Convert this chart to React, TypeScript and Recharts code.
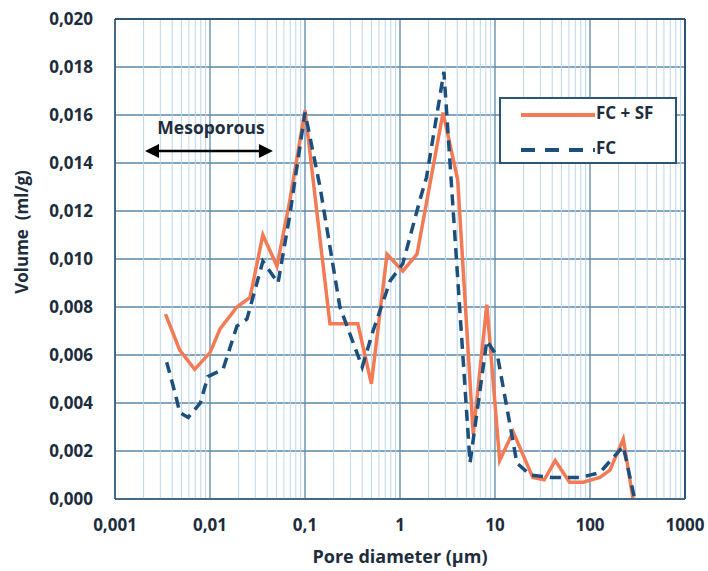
import React from 'react';
import { LineChart, Line, XAxis, YAxis, CartesianGrid, ReferenceLine } from 'recharts';

// FC + SF series (pore diameter µm, volume ml/g)
const fcSfX = [0.0034, 0.0048, 0.0069, 0.01, 0.0128, 0.0192, 0.0264, 0.036, 0.0507, 0.069, 0.1, 0.183, 0.36, 0.5, 0.73, 1.07, 1.51, 2.84, 4.05, 5.9, 8.2, 11.2, 15.5, 25, 33, 43, 61, 85, 127, 162, 224, 284];
const fcSfY = [0.0077, 0.0062, 0.0054, 0.0061, 0.0071, 0.008, 0.0084, 0.011, 0.0097, 0.0124, 0.0162, 0.0073, 0.0073, 0.0048, 0.0102, 0.0095, 0.0102, 0.0161, 0.0133, 0.0027, 0.0081, 0.0016, 0.0028, 0.0009, 0.0008, 0.0016, 0.0007, 0.0007, 0.0009, 0.0012, 0.0025, 0.0];

// FC series
const fcX = [0.0035, 0.0043, 0.0048, 0.0059, 0.0079, 0.0095, 0.0137, 0.0192, 0.0245, 0.036, 0.052, 0.069, 0.1, 0.144, 0.233, 0.4, 0.52, 0.79, 1.07, 1.63, 1.9, 2.9, 5.46, 8.2, 10.7, 17, 23.5, 40, 80, 127, 224, 295];
const fcY = [0.0057, 0.0044, 0.0036, 0.0034, 0.004, 0.0051, 0.0054, 0.0072, 0.0075, 0.0099, 0.009, 0.0118, 0.0161, 0.013, 0.008, 0.0055, 0.007, 0.0091, 0.0098, 0.0125, 0.0134, 0.0178, 0.0015, 0.0066, 0.0059, 0.0015, 0.001, 0.0009, 0.0009, 0.0011, 0.0022, 0.0];

const xTicks = [0.001, 0.01, 0.1, 1, 10, 100, 1000];
const xTickLabels = ['0,001', '0,01', '0,1', '1', '10', '100', '1000'];
const yTicks = [0, 0.002, 0.004, 0.006, 0.008, 0.01, 0.012, 0.014, 0.016, 0.018, 0.02];
const yTickLabels = ['0,000', '0,002', '0,004', '0,006', '0,008', '0,010', '0,012', '0,014', '0,016', '0,018', '0,020'];
const decades = [0.001, 0.01, 0.1, 1, 10, 100];
const multipliers = [2, 3, 4, 5, 6, 7, 8, 9];
const minorX = decades.flatMap((d) => multipliers.map((m) => +(d * m).toPrecision(3)));

const seriesNames = ['FC + SF', 'FC'];
const xTitle = 'Pore diameter (µm)';
const yTitle = 'Volume  (ml/g)';
const mesoLabel = 'Mesoporous';
const mesoRange = [0.00207, 0.046];
const mesoY = 0.0145;

const fcSfData = fcSfX.map((x, i) => ({ x, v: fcSfY[i] }));
const fcData = fcX.map((x, i) => ({ x, v: fcY[i] }));

const ORANGE = '#f27b56';
const BLUE = '#1c4f7c';
const MAJOR = '#5a88a8';
const MINOR = '#bcd6ea';
const BORDER = '#2c5474';
const TEXT = '#1d2d3d';
const FONT = '"Open Sans", sans-serif';

const ArrowShape = (props: any) => {
  const { x1, y1, x2, y2 } = props;
  if (x1 == null) return null;
  const h = 7;
  const w = 14;
  return (
    <g>
      <line x1={x1 + w - 2} y1={y1} x2={x2 - w + 2} y2={y2} stroke="#000" strokeWidth={2.5} />
      <polygon points={`${x1},${y1} ${x1 + w},${y1 - h} ${x1 + w},${y1 + h}`} fill="#000" />
      <polygon points={`${x2},${y2} ${x2 - w},${y2 - h} ${x2 - w},${y2 + h}`} fill="#000" />
      <text x={(x1 + x2) / 2 + 2} y={y1 - 17} textAnchor="middle" fontFamily={FONT} fontWeight={700} fontSize={17.5} fill={TEXT}>
        {mesoLabel}
      </text>
    </g>
  );
};

const YTitle = () => (
  <text
    x={21}
    y={232}
    transform="rotate(-90, 21, 232)"
    textAnchor="middle"
    dominantBaseline="central"
    fontFamily={FONT}
    fontWeight={700}
    fontSize={17}
    fill={TEXT}
    style={{ whiteSpace: 'pre' }}
  >
    {yTitle}
  </text>
);

const LegendBox = () => (
  <div
    style={{
      position: 'absolute',
      left: 499,
      top: 97,
      boxSizing: 'border-box',
      width: 178,
      height: 67,
      border: `2px solid ${BORDER}`,
      background: '#fff',
      fontFamily: FONT,
      fontWeight: 700,
      fontSize: 17,
      color: TEXT,
    }}
  >
    <svg width={80} height={60} style={{ position: 'absolute', left: 18, top: 2 }}>
      <line x1={2} y1={14} x2={76} y2={14} stroke={ORANGE} strokeWidth={4} />
      <line x1={2} y1={49} x2={76} y2={49} stroke={BLUE} strokeWidth={4} strokeDasharray="14 10" />
    </svg>
    <div style={{ position: 'absolute', left: 95, top: 3, lineHeight: '22px' }}>{seriesNames[0]}</div>
    <div style={{ position: 'absolute', left: 95, top: 38, lineHeight: '22px' }}>{seriesNames[1]}</div>
  </div>
);

export default function App() {
  return (
    <div style={{ position: 'absolute', left: 0, top: 0, width: 708, height: 571, background: '#fff' }}>
      <LineChart width={708} height={571} margin={{ top: 19, right: 23, bottom: 0, left: 0 }}>
        {minorX.map((v) => (
          <ReferenceLine key={v} x={v} stroke={MINOR} strokeWidth={1} ifOverflow="hidden" />
        ))}
        <CartesianGrid stroke={MAJOR} strokeWidth={1.3} />
        <XAxis
          dataKey="x"
          type="number"
          scale="log"
          domain={[0.001, 1000]}
          ticks={xTicks}
          allowDataOverflow
          tickFormatter={(v: number) => xTickLabels[xTicks.indexOf(v)] ?? String(v)}
          height={72}
          tickSize={0}
          tickMargin={20}
          axisLine={{ stroke: BORDER, strokeWidth: 1.5 }}
          tick={{ fill: TEXT, fontFamily: FONT, fontWeight: 700, fontSize: 17 }}
          label={{ value: xTitle, position: 'insideBottom', offset: 8, fill: TEXT, fontFamily: FONT, fontWeight: 700, fontSize: 18 }}
        />
        <YAxis
          type="number"
          domain={[0, 0.02]}
          ticks={yTicks}
          tickFormatter={(v: number) => yTickLabels[yTicks.findIndex((t) => Math.abs(t - v) < 1e-9)] ?? String(v)}
          width={115}
          tickSize={0}
          tickMargin={22}
          axisLine={{ stroke: BORDER, strokeWidth: 1.5 }}
          tick={{ fill: TEXT, fontFamily: FONT, fontWeight: 700, fontSize: 17 }}
          label={{ content: YTitle }}
        />
        <ReferenceLine x={1000} stroke={BORDER} strokeWidth={2} />
        <ReferenceLine y={0.02} stroke={BORDER} strokeWidth={2} />
        <ReferenceLine
          segment={[{ x: mesoRange[0], y: mesoY }, { x: mesoRange[1], y: mesoY }]}
          shape={ArrowShape}
          ifOverflow="visible"
        />
        <Line data={fcSfData} dataKey="v" name={seriesNames[0]} type="linear" stroke={ORANGE} strokeWidth={3.5} dot={false} isAnimationActive={false} />
        <Line data={fcData} dataKey="v" name={seriesNames[1]} type="linear" stroke={BLUE} strokeWidth={3.5} strokeDasharray="11 7" dot={false} isAnimationActive={false} />
      </LineChart>
      <LegendBox />
    </div>
  );
}
